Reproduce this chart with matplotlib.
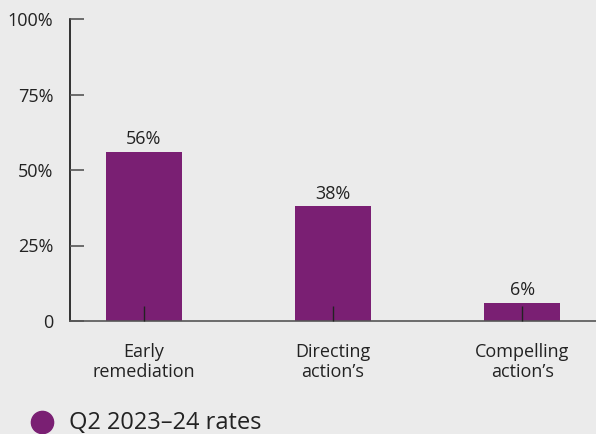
import matplotlib.pyplot as plt

categories = ["Early\nremediation", "Directing\naction\u2019s", "Compelling\naction\u2019s"]
rates = [56, 38, 6]
yticks = [0, 25, 50, 75, 100]
ytick_labels = ["0", "25%", "50%", "75%", "100%"]
series_name = "Q2 2023\u201324 rates"

bg = "#ebebeb"
purple = "#7a1f73"

plt.rcParams['font.family'] = ['Open Sans', 'DejaVu Sans']

fig = plt.figure(figsize=(5.96, 4.34), dpi=100, facecolor=bg)
ax = fig.add_axes([70/596, 1 - 321/434, 526/596, 302/434])
ax.set_facecolor(bg)

x = list(range(len(categories)))
ax.bar(x, rates, width=0.4, color=purple, zorder=2)
for xi, v in zip(x, rates):
    ax.text(xi, v + 1.2, f"{v}%", ha="center", va="bottom", fontsize=13, color="#222222")

ax.set_xlim(-0.39, 2.39)
ax.set_ylim(0, 100)
ax.set_yticks(yticks)
ax.set_yticklabels(ytick_labels)
ax.set_xticks(x)
ax.set_xticklabels(categories, linespacing=1.15)

ax.tick_params(axis="y", direction="in", length=10, width=1.2, color="#555555",
               labelsize=13, labelcolor="#222222", pad=12)
ax.tick_params(axis="x", direction="in", length=11, width=1, color="#222222",
               labelsize=13, labelcolor="#222222", pad=16)
ax.set_axisbelow(False)

for s in ["top", "right"]:
    ax.spines[s].set_visible(False)
ax.spines["left"].set_color("#111111")
ax.spines["left"].set_linewidth(1.2)
ax.spines["bottom"].set_color("#555555")
ax.spines["bottom"].set_linewidth(1.2)

# legend drawn by hand so it sits at the very bottom
fig.add_artist(plt.Line2D([42/596], [1 - 422/434], marker="o", markersize=16,
                          markerfacecolor=purple, markeredgecolor=purple,
                          linestyle="none", transform=fig.transFigure))
fig.text(69/596, 1 - 423/434, series_name, fontsize=17, color="#222222",
         ha="left", va="center")

fig.savefig("out.png", dpi=100, facecolor=bg)
